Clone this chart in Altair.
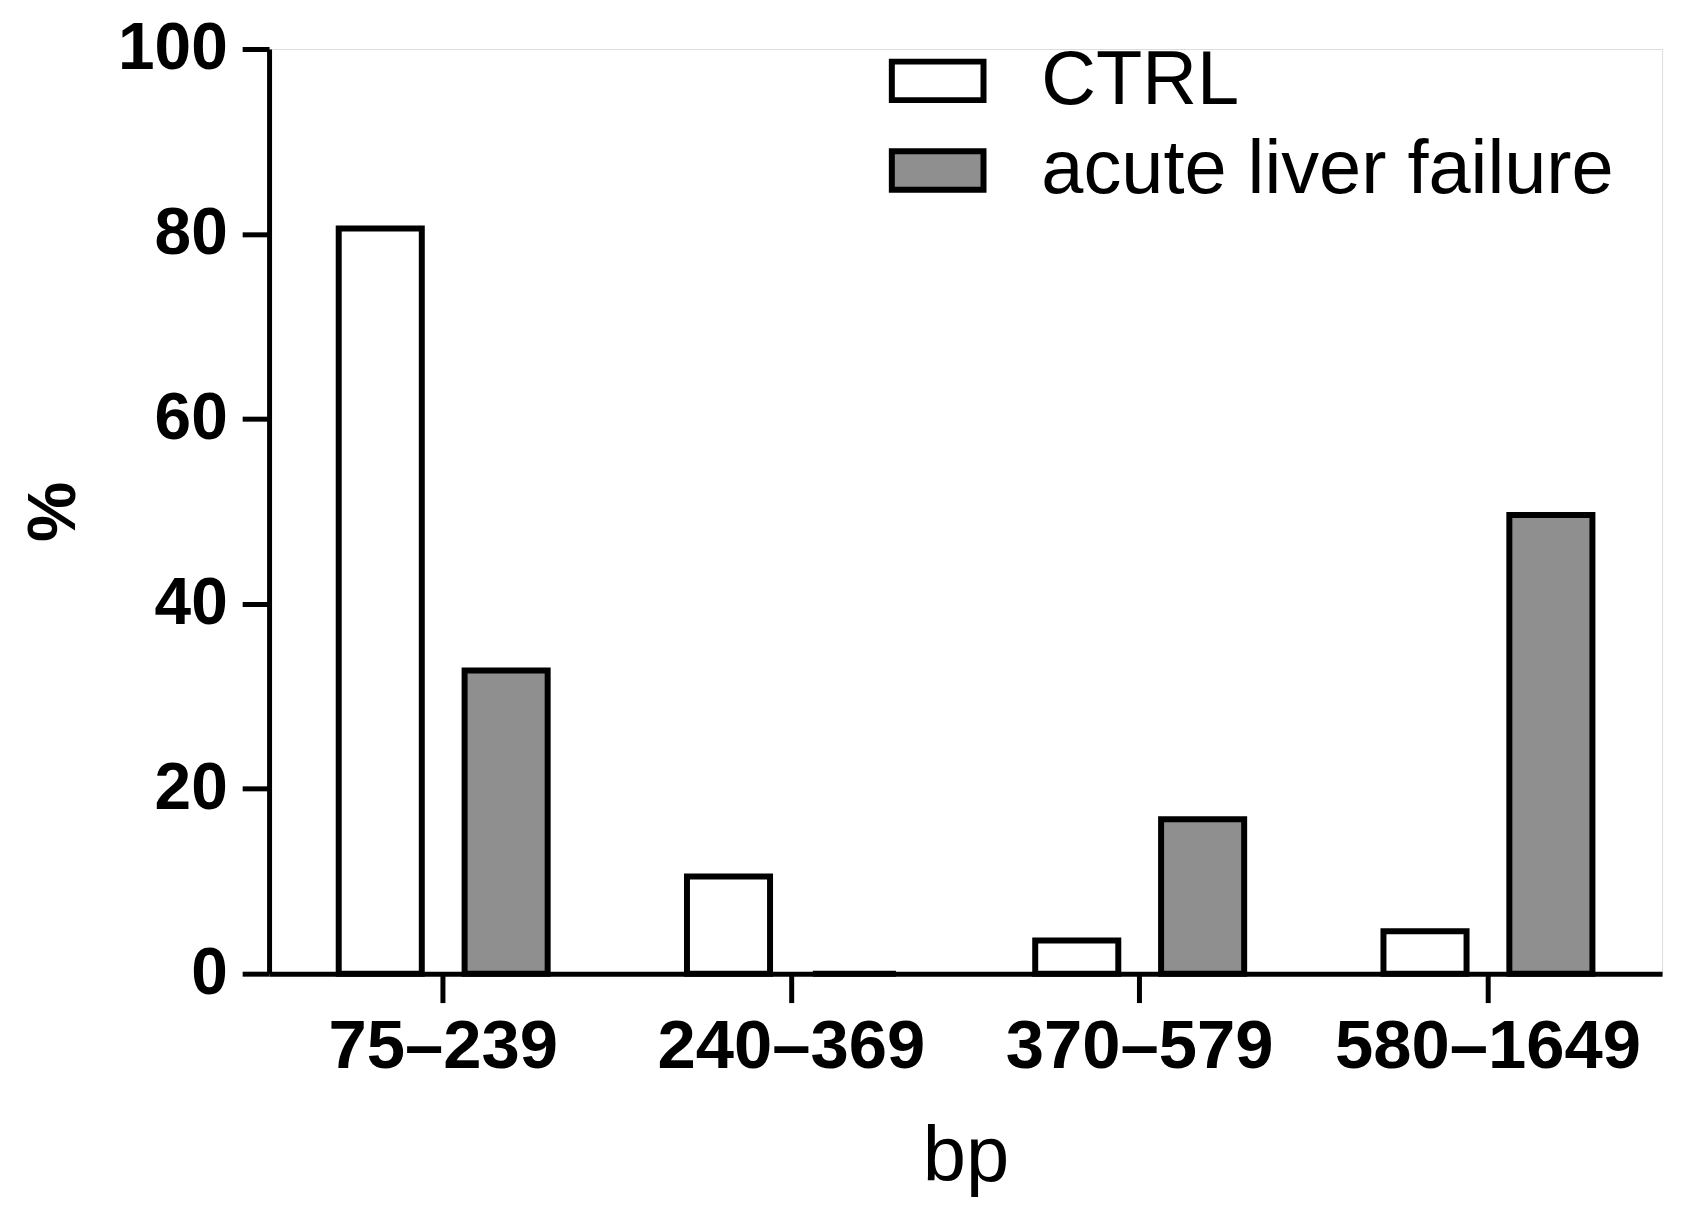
import altair as alt
import pandas as pd

categories = ["75–239", "240–369", "370–579", "580–1649"]
groups = ["CTRL", "acute liver failure"]
ctrl_values = [80.6, 10.5, 3.6, 4.6]
alf_values = [32.8, 0.0, 16.7, 49.6]

rows = []
for c, v in zip(categories, ctrl_values):
    rows.append({"bp": c, "group": groups[0], "pct": v})
for c, v in zip(categories, alf_values):
    rows.append({"bp": c, "group": groups[1], "pct": v})
df = pd.DataFrame(rows)

FONT = "Liberation Sans"

chart = alt.Chart(df).mark_bar(stroke="black", strokeWidth=6, strokeJoin="miter").encode(
    x=alt.X("bp:N", sort=categories,
            scale=alt.Scale(paddingInner=0.4, paddingOuter=0.2),
            axis=alt.Axis(title="bp", labelAngle=0, labelFont=FONT, labelFontSize=69,
                          labelFontWeight="bold", labelColor="black", labelPadding=10,
                          labelLimit=1000, zindex=1,
                          tickSize=29, tickWidth=5, tickColor="black",
                          domainWidth=5, domainColor="black",
                          titleFont=FONT, titleFontSize=78, titleFontWeight="normal",
                          titleColor="black", titlePadding=38)),
    xOffset=alt.XOffset("group:N", sort=groups,
                        scale=alt.Scale(paddingInner=0.34, paddingOuter=0)),
    y=alt.Y("pct:Q", scale=alt.Scale(domain=[0, 100], nice=False),
            axis=alt.Axis(title="%", values=[0, 20, 40, 60, 80, 100], grid=False,
                          labelFont=FONT, labelFontSize=66, labelFontWeight="bold",
                          labelColor="black", labelPadding=15,
                          tickSize=27, tickWidth=5, tickColor="black",
                          domainWidth=5, domainColor="black",
                          titleFont=FONT, titleFontSize=68, titleFontWeight="bold",
                          titleColor="black", titlePadding=29)),
    fill=alt.Fill("group:N", sort=groups,
                  scale=alt.Scale(domain=groups, range=["white", "#8f8f8f"]),
                  legend=alt.Legend(title=None, orient="none", legendX=622, legendY=-17,
                                    symbolType="M-1,-0.42L1,-0.42L1,0.42L-1,0.42Z",
                                    symbolSize=8464, symbolStrokeColor="black",
                                    symbolStrokeWidth=6, labelFont=FONT,
                                    labelFontSize=76, labelColor="black",
                                    labelOffset=55, rowPadding=3, padding=0,
                                    labelLimit=1000)),
).properties(
    width=1398, height=928,
    autosize=alt.AutoSizeParams(type="none"),
    padding={"left": 262, "top": 39, "right": 20, "bottom": 230},
).configure_view(stroke=None).configure(background="white")

chart.save("out.html", embed_options={"renderer": "svg", "actions": False})
